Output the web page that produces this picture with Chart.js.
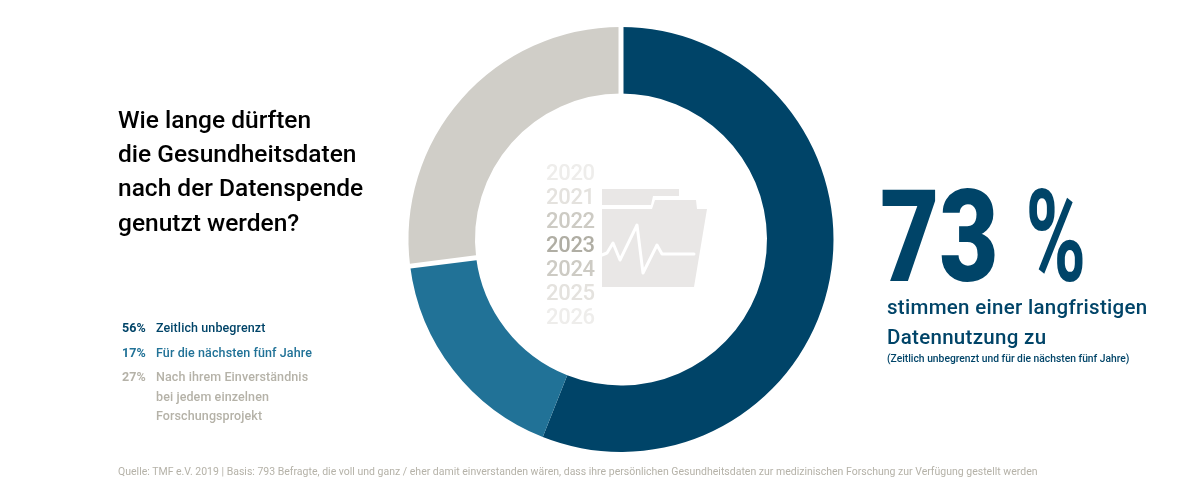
<!DOCTYPE html>
<html lang="de">
<head>
<meta charset="utf-8">
<title>Datenspende</title>
<script src="https://cdn.jsdelivr.net/npm/chart.js@4/dist/chart.umd.min.js"></script>
<style>
    html, body { margin: 0; padding: 0; background: #fff; }
    #wrap { position: relative; width: 1200px; height: 489px; overflow: hidden; font-family: Roboto, sans-serif; }
    #chart, #icon { position: absolute; left: 0; top: 0; }
    .t { position: absolute; white-space: nowrap; }
    #question { left: 118px; top: 103px; font-size: 24.5px; line-height: 34.2px; color: #000; font-weight: 500; }
    #legend .t { font-size: 12.5px; font-weight: 500; letter-spacing: .1px; }
    #big { left: 880px; top: 162px; font-size: 128px; line-height: 150px; font-weight: 900; color: #004468; transform: scaleX(.8); transform-origin: left top; }
    #big span { position: absolute; left: 182px; top: 0; font-weight: 700; transform: scaleX(.8); transform-origin: left top; }
    #claim { left: 887px; top: 292px; font-size: 20.5px; line-height: 30px; font-weight: 500; color: #004468; letter-spacing: .3px; }
    #claimNote { left: 887px; top: 352px; font-size: 10.3px; font-weight: 500; color: #004468; }
    #source { left: 118px; top: 465px; font-size: 10.5px; color: #b5b2a8; }
    #years .t { left: 546px; font-size: 22px; line-height: 24px; font-weight: 500; letter-spacing: -.3px; }
</style>
</head>
<body>
<div id="wrap">
    <canvas id="chart" width="1200" height="489"></canvas>
    <div class="t" id="question"></div>
    <div id="legend"></div>
    <div class="t" id="big">73 <span>%</span></div>
    <div class="t" id="claim">stimmen einer langfristigen<br>Datennutzung zu</div>
    <div class="t" id="claimNote">(Zeitlich unbegrenzt und für die nächsten fünf Jahre)</div>
    <div class="t" id="source">Quelle: TMF e.V. 2019 | Basis: 793 Befragte, die voll und ganz / eher damit einverstanden wären, dass ihre persönlichen Gesundheitsdaten zur medizinischen Forschung zur Verfügung gestellt werden</div>
    <div id="years"></div>
    <svg id="icon" width="1200" height="489">
        <path fill="#e9e7e6" d="M602 189H679V196H653L651 205H602Z"/>
        <path fill="#e9e7e6" d="M655 200H696L697 209H707L694 287H602V209H652Z"/>
        <polyline fill="none" stroke="#fff" stroke-width="3" stroke-linejoin="round" stroke-linecap="round"
            points="602,255 607,253 613,243 620,260 637,225 643,273 657,245 662,254 694,254"/>
    </svg>
</div>
<script>
const categories = ['Zeitlich unbegrenzt', 'Für die nächsten fünf Jahre', 'Nach ihrem Einverständnis bei jedem einzelnen Forschungsprojekt'];
const shares = [56, 17, 27];
const sliceColors = ['#004468', '#217297', '#d0cec8'];
const legendColors = ['#004468', '#217297', '#b5b2a8'];
const legendLines = [['Zeitlich unbegrenzt'], ['Für die nächsten fünf Jahre'], ['Nach ihrem Einverständnis', 'bei jedem einzelnen', 'Forschungsprojekt']];
const legendTops = [320, 345, 369];
const questionLines = ['Wie lange dürften', 'die Gesundheitsdaten', 'nach der Datenspende', 'genutzt werden?'];
const years = ['2020', '2021', '2022', '2023', '2024', '2025', '2026'];
const yearColors = ['#eeedeb', '#e4e2de', '#cdcbc4', '#b0aea4', '#cdcbc4', '#e4e2de', '#eeedeb'];
// slices that get a white cut at their start, the dark/blue edge has none
const cutSlices = [0, 2];

document.getElementById('question').innerHTML = questionLines.join('<br>');

// Legend rows
const legend = document.getElementById('legend');
shares.forEach((share, i) => {
    legend.innerHTML += `<div class="t" style="left:122px;top:${legendTops[i]}px;color:${legendColors[i]};font-weight:700">${share}%</div>`;
    legendLines[i].forEach((line, j) => {
        legend.innerHTML += `<div class="t" style="left:156px;top:${legendTops[i] + j * 19.7}px;color:${legendColors[i]}">${line}</div>`;
    });
});

// Year stack in the middle of the ring
const yearsBox = document.getElementById('years');
years.forEach((year, i) => {
    yearsBox.innerHTML += `<div class="t" style="top:${161 + i * 24}px;color:${yearColors[i]}">${year}</div>`;
});

const sliceCuts = {
    id: 'sliceCuts',
    afterDatasetsDraw(chart) {
        const ctx = chart.ctx;
        const arcs = chart.getDatasetMeta(0).data;
        ctx.save();
        ctx.strokeStyle = '#fff';
        ctx.lineWidth = 5;
        cutSlices.forEach(i => {
            const arc = arcs[i];
            const cos = Math.cos(arc.startAngle);
            const sin = Math.sin(arc.startAngle);
            ctx.beginPath();
            ctx.moveTo(arc.x + cos * (arc.innerRadius - 2), arc.y + sin * (arc.innerRadius - 2));
            ctx.lineTo(arc.x + cos * (arc.outerRadius + 2), arc.y + sin * (arc.outerRadius + 2));
            ctx.stroke();
        });
        ctx.restore();
    }
};

new Chart(document.getElementById('chart'), {
    type: 'doughnut',
    data: {
        labels: categories,
        datasets: [{
            data: shares,
            backgroundColor: sliceColors,
            borderWidth: 0,
            hoverOffset: 0
        }]
    },
    options: {
        responsive: false,
        animation: false,
        cutout: '68.7%',
        layout: { padding: { left: 408, right: 366, top: 27, bottom: 37 } },
        plugins: {
            legend: { display: false },
            tooltip: { enabled: false }
        }
    },
    plugins: [sliceCuts]
});
</script>
</body>
</html>
